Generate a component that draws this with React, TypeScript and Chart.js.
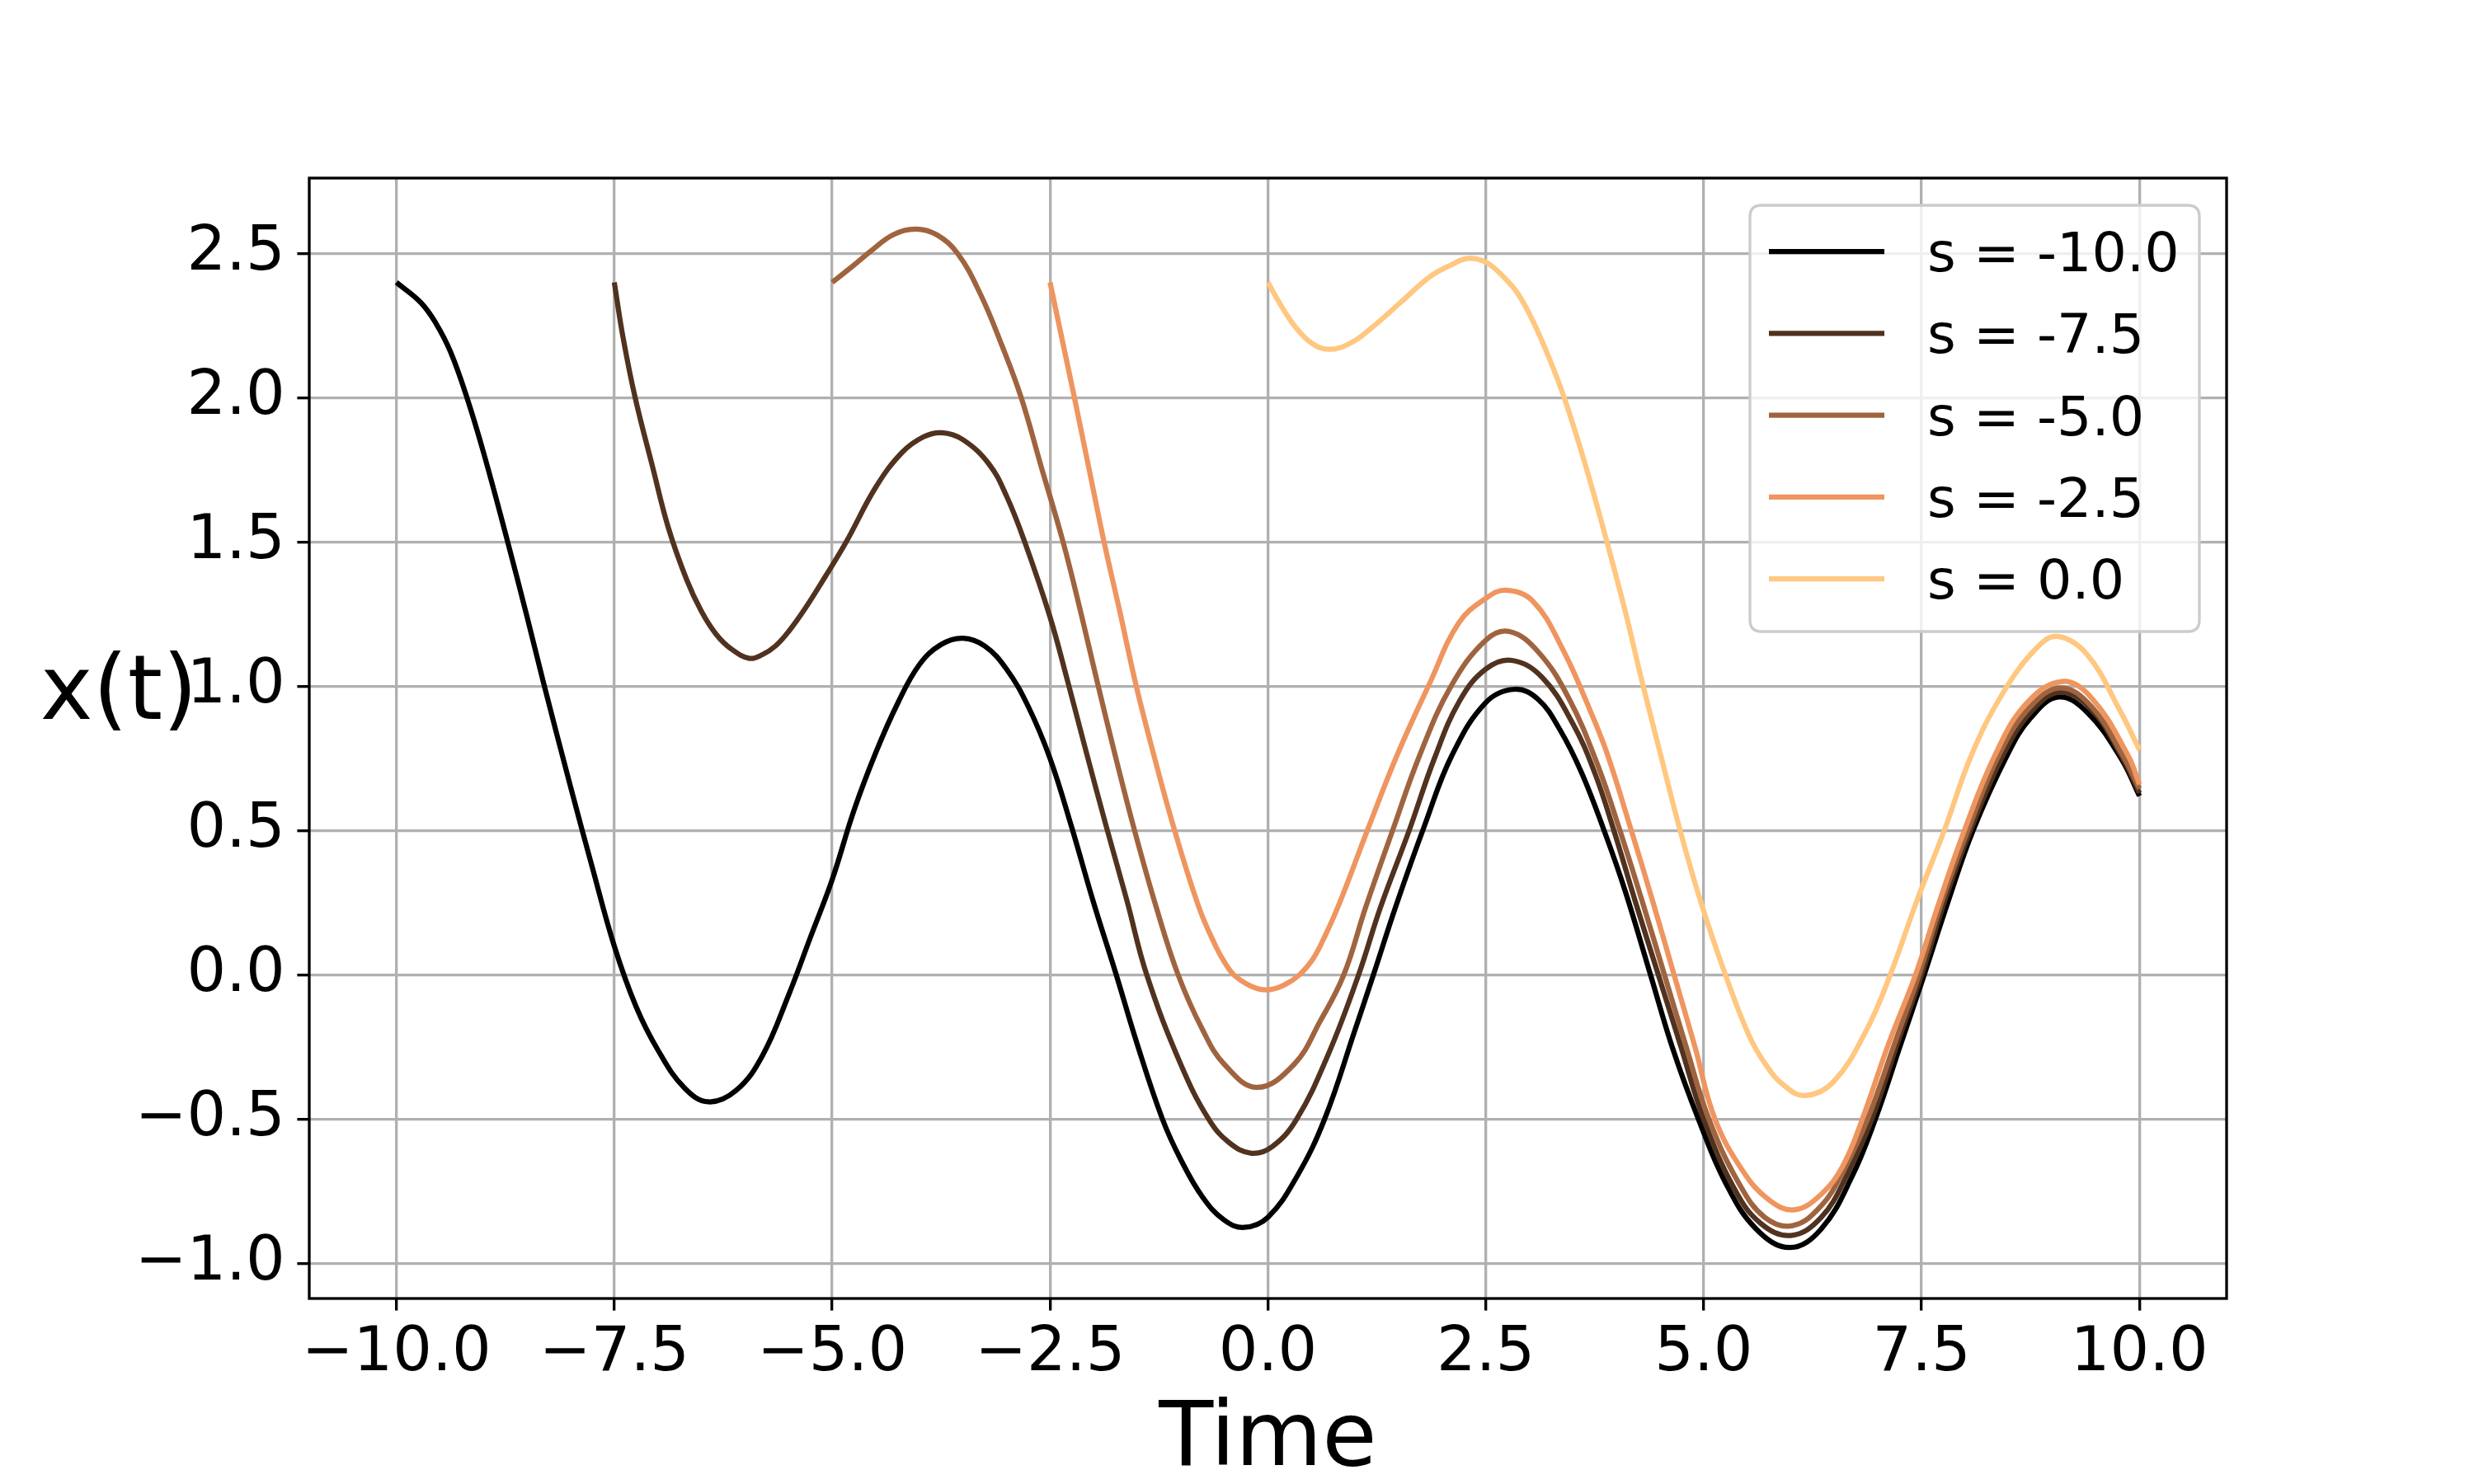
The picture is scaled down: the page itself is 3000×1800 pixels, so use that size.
import React, { useEffect, useRef } from "react";
import { Chart, registerables } from "chart.js";

Chart.register(...registerables);

// ---------- data ----------
const seriesLabels = ["s = -10.0", "s = -7.5", "s = -5.0", "s = -2.5", "s = 0.0"];
const seriesColors = ["#000000", "#50321f", "#9f643f", "#ef955f", "#ffc77f"];

const xTickValues = [-10, -7.5, -5, -2.5, 0, 2.5, 5, 7.5, 10];
const xTickLabels = ["\u221210.0", "\u22127.5", "\u22125.0", "\u22122.5", "0.0", "2.5", "5.0", "7.5", "10.0"];
const yTickValues = [-1.0, -0.5, 0, 0.5, 1.0, 1.5, 2.0, 2.5];
const yTickLabels = ["\u22121.0", "\u22120.5", "0.0", "0.5", "1.0", "1.5", "2.0", "2.5"];

const xAxisTitle = "Time";
const yAxisTitle = "x(t)";

// s = -10.0
const tS10 = [-10, -9.72, -9.55, -9.38, -9.19, -9.0, -8.74, -8.5, -8.31, -8.0, -7.75, -7.5, -7.25, -7.0, -6.7, -6.42, -6.1, -5.8, -5.5, -5.25, -5.0, -4.75, -4.5, -4.25, -4.0, -3.75, -3.5, -3.25, -3.0, -2.75, -2.5, -2.25, -2.0, -1.74, -1.5, -1.21, -1.0, -0.75, -0.5, -0.27, 0, 0.33, 0.65, 1.0, 1.21, 1.47, 1.8, 2.11, 2.5, 2.83, 3.1, 3.35, 3.6, 3.87, 4.1, 4.39, 4.65, 4.94, 5.25, 5.6, 5.99, 6.35, 6.7, 6.97, 7.25, 7.53, 7.8, 8.09, 8.48, 8.75, 9.07, 9.4, 9.79, 10];
const xS10 = [2.40, 2.33, 2.26, 2.16, 2.0, 1.81, 1.52, 1.24, 1.01, 0.65, 0.37, 0.10, -0.11, -0.26, -0.39, -0.44, -0.40, -0.28, -0.07, 0.13, 0.33, 0.57, 0.77, 0.94, 1.075, 1.145, 1.167, 1.14, 1.06, 0.93, 0.75, 0.51, 0.25, 0.0, -0.24, -0.5, -0.64, -0.77, -0.85, -0.875, -0.84, -0.70, -0.5, -0.19, 0.0, 0.24, 0.52, 0.76, 0.944, 0.99, 0.955, 0.85, 0.70, 0.49, 0.29, 0.0, -0.26, -0.5, -0.72, -0.88, -0.945, -0.88, -0.70, -0.5, -0.25, 0.0, 0.25, 0.5, 0.76, 0.89, 0.963, 0.91, 0.75, 0.62];

// s = -7.5
const tS75 = [-7.5, -7.4, -7.26, -7.06, -6.88, -6.67, -6.5, -6.33, -6.16, -5.95, -5.8, -5.65, -5.5, -5.31, -5.08, -4.84, -4.5, -4.2, -3.95, -3.74, -3.5, -3.2, -3.0, -2.79, -2.5, -2.3, -2.1, -1.86, -1.62, -1.39, -1.0, -0.68, -0.45, -0.19, 0.05, 0.33, 0.7, 1.04, 1.29, 1.62, 1.91, 2.2, 2.5, 2.8, 3.15, 3.5, 3.75, 3.97, 4.22, 4.48, 4.74, 5.0, 5.35, 5.65, 6.0, 6.35, 6.65, 6.93, 7.22, 7.5, 7.78, 8.06, 8.45, 8.78, 9.1, 9.45, 9.8, 10];
const xS75 = [2.40, 2.21, 2.0, 1.76, 1.55, 1.37, 1.26, 1.18, 1.13, 1.097, 1.11, 1.14, 1.19, 1.27, 1.38, 1.5, 1.69, 1.81, 1.865, 1.879, 1.855, 1.77, 1.66, 1.5, 1.24, 1.02, 0.79, 0.52, 0.26, 0.0, -0.31, -0.5, -0.58, -0.618, -0.595, -0.5, -0.27, 0.0, 0.233, 0.5, 0.75, 0.95, 1.06, 1.09, 1.03, 0.87, 0.70, 0.5, 0.25, 0.0, -0.25, -0.5, -0.74, -0.86, -0.903, -0.84, -0.69, -0.5, -0.24, 0.0, 0.27, 0.5, 0.77, 0.92, 0.98, 0.92, 0.755, 0.63];

// s = -5.0
const tS50 = [-5.0, -4.77, -4.55, -4.3, -4.04, -3.8, -3.56, -3.3, -3.05, -2.83, -2.6, -2.35, -2.15, -1.97, -1.76, -1.53, -1.28, -1.03, -0.75, -0.5, -0.126, 0.3, 0.6, 0.87, 1.12, 1.43, 1.74, 2.1, 2.5, 2.77, 3.1, 3.45, 3.78, 4.05, 4.3, 4.55, 4.8, 5.06, 5.4, 5.7, 6.02, 6.35, 6.6, 6.88, 7.2, 7.47, 7.75, 8.03, 8.4, 8.75, 9.1, 9.45, 9.8, 10];
const xS50 = [2.40, 2.455, 2.51, 2.565, 2.585, 2.565, 2.5, 2.36, 2.18, 2.0, 1.76, 1.5, 1.26, 1.03, 0.77, 0.5, 0.233, 0.0, -0.19, -0.31, -0.39, -0.31, -0.16, 0.0, 0.233, 0.5, 0.76, 1.0, 1.16, 1.19, 1.12, 0.96, 0.73, 0.49, 0.25, 0.0, -0.25, -0.5, -0.72, -0.84, -0.869, -0.80, -0.68, -0.5, -0.23, 0.0, 0.27, 0.5, 0.77, 0.93, 0.995, 0.93, 0.765, 0.645];

// s = -2.5
const tS25 = [-2.5, -2.36, -2.22, -2.05, -1.88, -1.7, -1.51, -1.29, -1.07, -0.79, -0.6, -0.5, -0.39, -0.2, -0.016, 0.18, 0.36, 0.5, 0.6, 0.80, 1.14, 1.48, 1.855, 2.19, 2.5, 2.73, 3.04, 3.38, 3.72, 3.9, 4.17, 4.42, 4.66, 4.9, 5.13, 5.45, 5.75, 6.04, 6.35, 6.6, 6.82, 7.12, 7.43, 7.7, 7.99, 8.34, 8.7, 9.115, 9.45, 9.87, 10];
const xS25 = [2.40, 2.20, 2.0, 1.75, 1.5, 1.26, 1.0, 0.74, 0.5, 0.233, 0.10, 0.045, 0.0, -0.038, -0.052, -0.036, 0.0, 0.048, 0.10, 0.233, 0.5, 0.76, 1.01, 1.22, 1.305, 1.333, 1.295, 1.13, 0.90, 0.76, 0.5, 0.25, 0.0, -0.25, -0.5, -0.68, -0.78, -0.814, -0.76, -0.66, -0.5, -0.24, 0.0, 0.25, 0.5, 0.76, 0.94, 1.017, 0.96, 0.76, 0.66];

// s = 0.0
const tS00 = [0, 0.16, 0.33, 0.5, 0.7, 0.95, 1.18, 1.52, 1.86, 2.1, 2.295, 2.5, 2.7, 2.87, 3.05, 3.21, 3.4, 3.65, 3.89, 4.1, 4.29, 4.5, 4.73, 4.97, 5.25, 5.52, 5.71, 5.91, 6.16, 6.49, 6.87, 7.14, 7.45, 7.76, 8.07, 8.42, 8.81, 9.057, 9.4, 9.77, 10];
const xS00 = [2.40, 2.315, 2.24, 2.19, 2.168, 2.19, 2.24, 2.33, 2.42, 2.46, 2.483, 2.47, 2.42, 2.36, 2.26, 2.15, 2.0, 1.76, 1.5, 1.26, 1.02, 0.77, 0.5, 0.25, 0.0, -0.21, -0.31, -0.38, -0.418, -0.37, -0.19, 0.0, 0.26, 0.5, 0.76, 0.97, 1.13, 1.173, 1.11, 0.92, 0.78];

const seriesT = [tS10, tS75, tS50, tS25, tS00];
const seriesX = [xS10, xS75, xS50, xS25, xS00];

// ---------- styling ----------
const FONT = '"DejaVu Sans", "Liberation Sans", sans-serif';
const W = 3000;
const H = 1800;
const LW = 3.33;

const decorPlugin = {
  id: "decor",
  afterDatasetsDraw(chart: any) {
    const { ctx, chartArea: a } = chart;
    ctx.save();
    // spines
    ctx.strokeStyle = "#000000";
    ctx.lineWidth = LW;
    ctx.strokeRect(a.left, a.top, a.right - a.left, a.bottom - a.top);

    // legend
    const bw = 545;
    const bh = 517;
    const bx = a.right - 33 - bw;
    const by = a.top + 33;
    const r = 14;
    ctx.beginPath();
    ctx.moveTo(bx + r, by);
    ctx.lineTo(bx + bw - r, by);
    ctx.quadraticCurveTo(bx + bw, by, bx + bw, by + r);
    ctx.lineTo(bx + bw, by + bh - r);
    ctx.quadraticCurveTo(bx + bw, by + bh, bx + bw - r, by + bh);
    ctx.lineTo(bx + r, by + bh);
    ctx.quadraticCurveTo(bx, by + bh, bx, by + bh - r);
    ctx.lineTo(bx, by + r);
    ctx.quadraticCurveTo(bx, by, bx + r, by);
    ctx.closePath();
    ctx.fillStyle = "rgba(255,255,255,0.8)";
    ctx.fill();
    ctx.strokeStyle = "#cccccc";
    ctx.lineWidth = LW;
    ctx.stroke();

    ctx.font = `66.7px ${FONT}`;
    ctx.textAlign = "left";
    ctx.textBaseline = "alphabetic";
    chart.data.datasets.forEach((ds: any, i: number) => {
      const ry = by + 56 + i * 99.3;
      ctx.strokeStyle = ds.borderColor;
      ctx.lineWidth = 6.25;
      ctx.lineCap = "butt";
      ctx.beginPath();
      ctx.moveTo(bx + 23, ry);
      ctx.lineTo(bx + 163, ry);
      ctx.stroke();
      ctx.fillStyle = "#000000";
      ctx.fillText(ds.label, bx + 215, ry + 24);
    });

    // axis titles
    ctx.font = `108px ${FONT}`;
    ctx.fillStyle = "#000000";
    ctx.textAlign = "center";
    ctx.textBaseline = "alphabetic";
    ctx.fillText(xAxisTitle, (a.left + a.right) / 2, 1777);
    ctx.fillText(yAxisTitle, 144, 872);
    ctx.restore();
  },
};

export default function App() {
  const canvasRef = useRef<HTMLCanvasElement | null>(null);

  useEffect(() => {
    if (!canvasRef.current) return;
    const datasets = seriesLabels.map((label, i) => ({
      label,
      data: seriesT[i].map((t, j) => ({ x: t, y: seriesX[i][j] })),
      borderColor: seriesColors[i],
      backgroundColor: seriesColors[i],
      borderWidth: 6.25,
      pointRadius: 0,
      pointHoverRadius: 0,
      fill: false,
      tension: 0.4,
      borderCapStyle: "butt" as const,
      borderJoinStyle: "round" as const,
      order: seriesLabels.length - 1 - i,
    }));

    const chart = new Chart(canvasRef.current, {
      type: "line",
      data: { datasets },
      options: {
        responsive: false,
        maintainAspectRatio: false,
        devicePixelRatio: 1,
        animation: false,
        events: [],
        layout: { padding: { top: 216, right: 300, left: 0, bottom: 0 } },
        plugins: {
          legend: { display: false },
          tooltip: { enabled: false },
          title: { display: false },
        },
        scales: {
          x: {
            type: "linear",
            min: -11,
            max: 11,
            afterBuildTicks: (axis: any) => {
              axis.ticks = xTickValues.map((v) => ({ value: v }));
            },
            afterFit: (axis: any) => {
              axis.height = H - 1575;
            },
            ticks: {
              autoSkip: false,
              maxRotation: 0,
              minRotation: 0,
              padding: 8,
              color: "#000000",
              font: { family: FONT, size: 75 },
              callback: (_v: any, idx: number) => xTickLabels[idx],
            },
            grid: {
              color: "#b0b0b0",
              lineWidth: LW,
              drawTicks: true,
              tickLength: 14.6,
              tickColor: "#000000",
              tickWidth: LW,
            },
            border: { display: false },
          },
          y: {
            type: "linear",
            min: -1.1215,
            max: 2.7615,
            afterBuildTicks: (axis: any) => {
              axis.ticks = yTickValues.map((v) => ({ value: v }));
            },
            afterFit: (axis: any) => {
              axis.width = 375;
            },
            ticks: {
              autoSkip: false,
              padding: 14.6,
              color: "#000000",
              font: { family: FONT, size: 75 },
              callback: (_v: any, idx: number) => yTickLabels[idx],
            },
            grid: {
              color: "#b0b0b0",
              lineWidth: LW,
              drawTicks: true,
              tickLength: 14.6,
              tickColor: "#000000",
              tickWidth: LW,
            },
            border: { display: false },
          },
        },
      },
      plugins: [decorPlugin],
    });

    return () => {
      chart.destroy();
    };
  }, []);

  return (
    <div style={{ position: "absolute", left: 0, top: 0, width: W, height: H, background: "#ffffff" }}>
      <canvas ref={canvasRef} width={W} height={H} style={{ width: `${W}px`, height: `${H}px`, display: "block" }} />
    </div>
  );
}
